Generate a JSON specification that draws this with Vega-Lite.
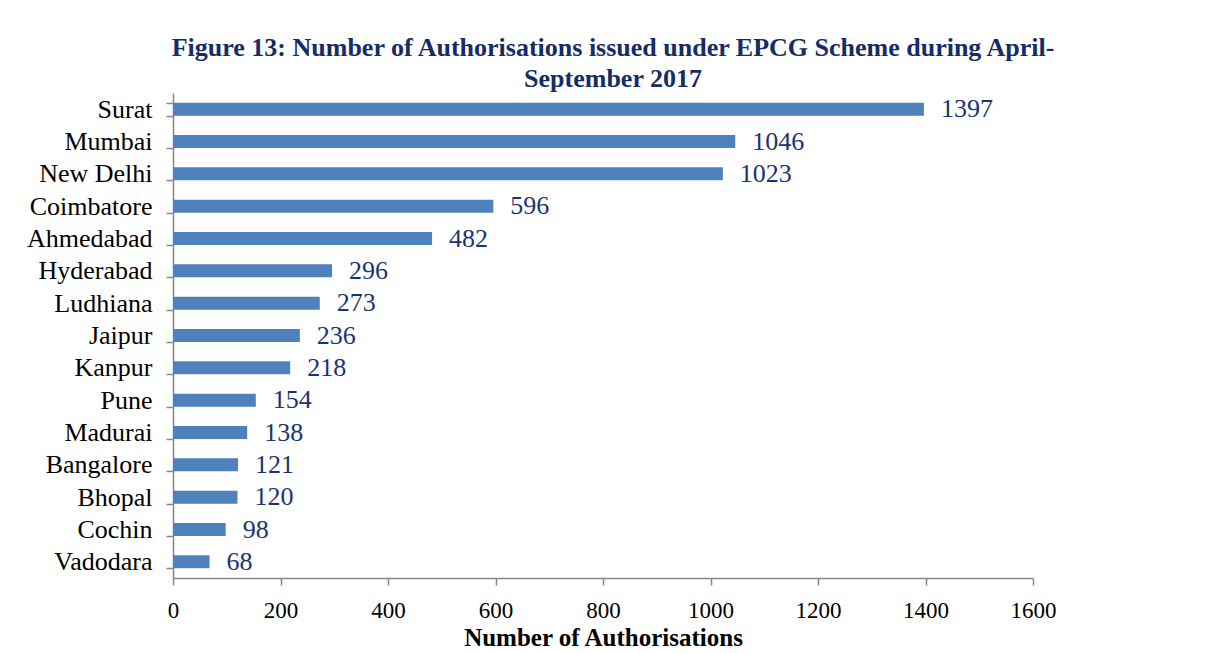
{
  "$schema": "https://vega.github.io/schema/vega-lite/v6.json",
  "autosize": "none",
  "width": 860,
  "height": 485,
  "padding": {"left": 173, "top": 93, "right": 174, "bottom": 75},
  "background": "white",
  "title": {
    "text": ["Figure 13: Number of Authorisations issued under EPCG Scheme during April-", "September 2017"],
    "font": "Liberation Serif",
    "fontSize": 26,
    "fontWeight": "bold",
    "color": "#162c66",
    "anchor": "middle",
    "lineHeight": 31,
    "offset": -12,
    "dx": 10
  },
  "data": {
    "values": [
      {"city": "Surat", "count": 1397},
      {"city": "Mumbai", "count": 1046},
      {"city": "New Delhi", "count": 1023},
      {"city": "Coimbatore", "count": 596},
      {"city": "Ahmedabad", "count": 482},
      {"city": "Hyderabad", "count": 296},
      {"city": "Ludhiana", "count": 273},
      {"city": "Jaipur", "count": 236},
      {"city": "Kanpur", "count": 218},
      {"city": "Pune", "count": 154},
      {"city": "Madurai", "count": 138},
      {"city": "Bangalore", "count": 121},
      {"city": "Bhopal", "count": 120},
      {"city": "Cochin", "count": 98},
      {"city": "Vadodara", "count": 68}
    ]
  },
  "encoding": {
    "y": {
      "field": "city",
      "type": "nominal",
      "sort": null,
      "scale": {"paddingInner": 0.6, "paddingOuter": 0.3},
      "axis": {
        "title": null,
        "tickBand": "extent",
        "labelFont": "Liberation Serif",
        "labelFontSize": 26,
        "labelColor": "#000000",
        "labelPadding": 14,
        "tickSize": 7,
        "tickColor": "#868686",
        "domainColor": "#868686",
        "domainWidth": 1.5,
        "tickWidth": 1.5
      }
    },
    "x": {
      "field": "count",
      "type": "quantitative",
      "scale": {"domain": [0, 1600], "nice": false},
      "axis": {
        "values": [0, 200, 400, 600, 800, 1000, 1200, 1400, 1600],
        "format": "d",
        "labelFlush": false,
        "title": "Number of Authorisations",
        "titleFont": "Liberation Serif",
        "titleFontSize": 25,
        "titleFontWeight": "bold",
        "titleColor": "#000000",
        "titlePadding": 3,
        "labelFont": "Liberation Serif",
        "labelFontSize": 23,
        "labelColor": "#000000",
        "labelPadding": 14,
        "tickSize": 7,
        "tickColor": "#868686",
        "domainColor": "#868686",
        "domainWidth": 1.5,
        "tickWidth": 1.5,
        "grid": false
      }
    }
  },
  "layer": [
    {"mark": {"type": "bar", "color": "#4f81bd"}},
    {
      "mark": {
        "type": "text",
        "align": "left",
        "baseline": "middle",
        "dx": 17,
        "font": "Liberation Serif",
        "fontSize": 26,
        "color": "#1a3472"
      },
      "encoding": {"text": {"field": "count", "type": "quantitative"}}
    }
  ],
  "config": {"view": {"stroke": null}}
}
